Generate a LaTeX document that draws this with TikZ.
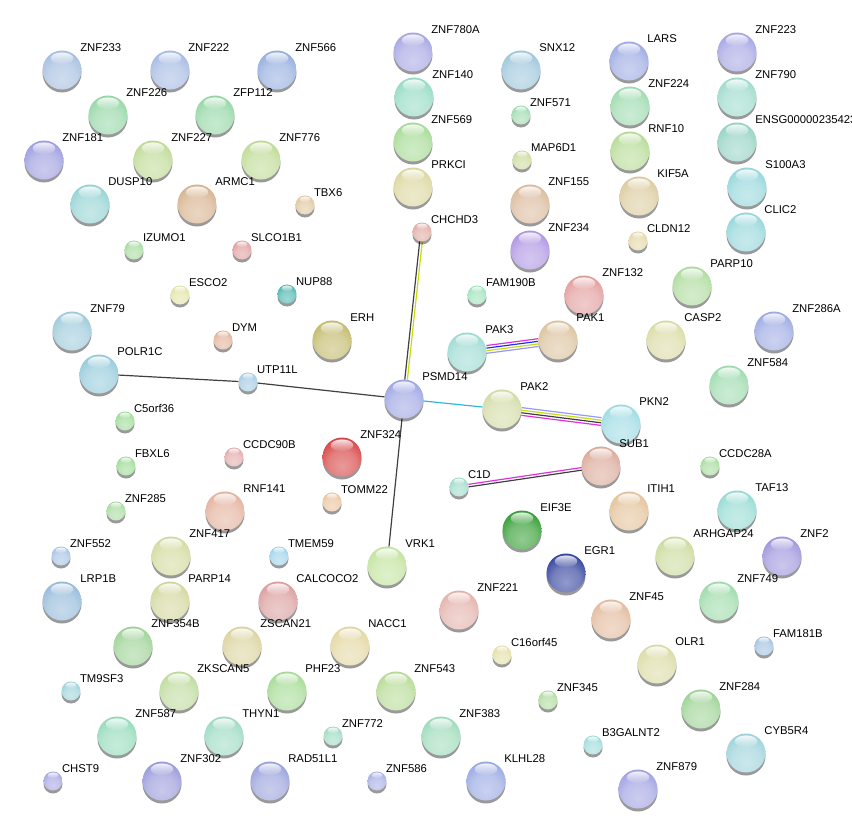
\documentclass[tikz,border=0pt]{standalone}
\usepackage{fontspec}
\setmainfont{Liberation Sans}
\usetikzlibrary{fadings}
\pgfdeclarelayer{edges}
\pgfdeclarelayer{labels}
\pgfsetlayers{edges,main,labels}
\definecolor{mybase}{HTML}{A0A8E4}
\pgfdeclareradialshading[mybase]{sphere}{\pgfpoint{0bp}{-12bp}}{%
 color(0bp)=(mybase!55!white);
 color(18bp)=(mybase!70!white);
 color(32bp)=(mybase);
 color(42bp)=(mybase!78!black);
 color(50bp)=(mybase!55!black);
 color(100bp)=(mybase!50!black)}
\definecolor{eblack}{HTML}{404040}
\definecolor{eyellow}{HTML}{C8DC10}
\definecolor{emag}{HTML}{E030E0}
\definecolor{eblue}{HTML}{2030E8}
\definecolor{elav}{HTML}{9898F8}
\definecolor{ecyan}{HTML}{30B8E0}
\tikzset{
 protein/.style={circle, inner sep=0pt, outer sep=0pt, shading=sphere},
 lbl/.style={anchor=west, inner sep=0pt, font=\fontsize{11.3}{13}\selectfont, text=black},
 edge/.style={line width=1.2pt},
}
\newcommand\protnode[6]{%
 \fill[black,opacity=0.4] (#2,#3+3) circle (#4);
 \definecolor{mybase}{HTML}{#5}%
 \node[protein, minimum size=2*#4pt] (#1) at (#2,#3) {};
 \fill[white,opacity=0.85,path fading=south] (#2,#3-0.6*#4) ellipse ({0.58*#4} and {0.3*#4});
 \begin{pgfonlayer}{labels}
 \node[lbl] at (#2+0.93*#4,#3-#4-2.8) {#6};
 \end{pgfonlayer}%
}
\begin{document}
\begin{tikzpicture}[x=1pt,y=-1pt]
\useasboundingbox (0,0) rectangle (852,835);
\begin{pgfonlayer}{edges}
\fill[white] (0,0) rectangle (852,835);
\end{pgfonlayer}
\protnode{ZNF233}{62}{70}{19.5}{A8C0E0}{ZNF233}
\protnode{ZNF222}{170}{70}{19.5}{A8BCE4}{ZNF222}
\protnode{ZNF566}{277}{70}{19.5}{98B0E0}{ZNF566}
\protnode{ZNF226}{108}{115}{19.5}{98D8A8}{ZNF226}
\protnode{ZFP112}{215}{115}{19.5}{98D8A8}{ZFP112}
\protnode{ZNF181}{44}{160}{19.5}{A0A0E0}{ZNF181}
\protnode{ZNF227}{153}{160}{19.5}{C0DC98}{ZNF227}
\protnode{ZNF776}{261}{160}{19.5}{C0DC98}{ZNF776}
\protnode{DUSP10}{90}{204}{19.5}{98D4D4}{DUSP10}
\protnode{ARMC1}{197}{204}{19.5}{D8B490}{ARMC1}
\protnode{IZUMO1}{134}{250}{9.5}{A8DCA0}{IZUMO1}
\protnode{SLCO1B1}{242}{250}{9.5}{E0A0A0}{SLCO1B1}
\protnode{TBX6}{305}{205}{9.5}{E0C8A0}{TBX6}
\protnode{ZNF780A}{413}{52}{19.5}{A8A8E4}{ZNF780A}
\protnode{ZNF140}{414}{97}{19.5}{98DCC4}{ZNF140}
\protnode{ZNF569}{413}{142}{19.5}{A8DC98}{ZNF569}
\protnode{PRKCI}{413}{187}{19.5}{DCD8A0}{PRKCI}
\protnode{CHCHD3}{422}{232}{9.5}{E0ACA4}{CHCHD3}
\protnode{SNX12}{521}{70}{19.5}{A0C8DC}{SNX12}
\protnode{ZNF571}{521}{115}{9.5}{A0DCB0}{ZNF571}
\protnode{MAP6D1}{522}{160}{9.5}{CCDCA0}{MAP6D1}
\protnode{ZNF155}{530}{204}{19.5}{DCBCA0}{ZNF155}
\protnode{ZNF234}{530}{250}{19.5}{B098E4}{ZNF234}
\protnode{LARS}{629}{61}{19.5}{A0ACE4}{LARS}
\protnode{ZNF224}{630}{106}{19.5}{A0DCB0}{ZNF224}
\protnode{RNF10}{630}{151}{19.5}{B8DC98}{RNF10}
\protnode{KIF5A}{639}{196}{19.5}{DCCCA0}{KIF5A}
\protnode{CLDN12}{638}{241}{9.5}{E4D8A8}{CLDN12}
\protnode{ZNF223}{737}{52}{19.5}{A8A8E4}{ZNF223}
\protnode{ZNF790}{737}{97}{19.5}{A0DCCC}{ZNF790}
\protnode{ENSG}{737}{142}{19.5}{98D4C4}{ENSG00000235423}
\protnode{S100A3}{747}{187}{19.5}{98D8DC}{S100A3}
\protnode{CLIC2}{746}{232}{19.5}{98D8DC}{CLIC2}
\protnode{PARP10}{692}{286}{19.5}{B0DCA0}{PARP10}
\protnode{ZNF132}{584}{295}{19.5}{E4A0A0}{ZNF132}
\protnode{ESCO2}{180}{295}{9.5}{E4E4A8}{ESCO2}
\protnode{ZNF79}{72}{331}{19.5}{A0CCDC}{ZNF79}
\protnode{DYM}{223}{340}{9.5}{E4B49C}{DYM}
\protnode{POLR1C}{99}{374}{19.5}{98CCDC}{POLR1C}
\protnode{UTP11L}{248}{382}{9.5}{A4CCE4}{UTP11L}
\protnode{NUP88}{287}{294}{9.5}{50B8B0}{NUP88}
\protnode{ERH}{332}{340}{19.5}{C4BC70}{ERH}
\protnode{PSMD14}{404}{399}{19.5}{A0A8E4}{PSMD14}
\protnode{FAM190B}{477}{295}{9.5}{A0E4BC}{FAM190B}
\protnode{PAK3}{467}{352}{19.5}{A0DCD4}{PAK3}
\protnode{PAK1}{558}{340}{19.5}{DCC4A0}{PAK1}
\protnode{CASP2}{666}{340}{19.5}{DCDCA8}{CASP2}
\protnode{ZNF286A}{774}{331}{19.5}{A0ACE4}{ZNF286A}
\protnode{ZNF584}{729}{385}{19.5}{A0DCB0}{ZNF584}
\protnode{PAK2}{502}{409}{19.5}{D4DCA8}{PAK2}
\protnode{PKN2}{621}{424}{19.5}{A0DCE4}{PKN2}
\protnode{C5orf36}{125}{421}{9.5}{A0DC98}{C5orf36}
\protnode{FBXL6}{126}{466}{9.5}{A0DC98}{FBXL6}
\protnode{CCDC90B}{234}{457}{9.5}{E4ACAC}{CCDC90B}
\protnode{ZNF324}{342}{457}{19.5}{D84848}{ZNF324}
\protnode{TOMM22}{332}{502}{9.5}{ECC4A0}{TOMM22}
\protnode{ZNF285}{116}{511}{9.5}{A8DCA0}{ZNF285}
\protnode{RNF141}{225}{511}{19.5}{E4B4A0}{RNF141}
\protnode{SUB1}{601}{466}{19.5}{DCAC9C}{SUB1}
\protnode{C1D}{459}{487}{9.5}{A0DCCC}{C1D}
\protnode{CCDC28A}{710}{466}{9.5}{A8DCA0}{CCDC28A}
\protnode{ITIH1}{629}{511}{19.5}{E4C49C}{ITIH1}
\protnode{EIF3E}{522}{530}{19.5}{38A038}{EIF3E}
\protnode{TAF13}{737}{510}{19.5}{98DCD4}{TAF13}
\protnode{ZNF552}{61}{556}{9.5}{A8C4E4}{ZNF552}
\protnode{ZNF417}{171}{556}{19.5}{D4DCA0}{ZNF417}
\protnode{TMEM59}{279}{556}{9.5}{A0D4EC}{TMEM59}
\protnode{VRK1}{387}{566}{19.5}{C4E4A0}{VRK1}
\protnode{EGR1}{566}{573}{19.5}{3848A0}{EGR1}
\protnode{ARHGAP24}{675}{556}{19.5}{CCDCA0}{ARHGAP24}
\protnode{ZNF2}{782}{556}{19.5}{A098DC}{ZNF2}
\protnode{LRP1B}{62}{601}{19.5}{98BCDC}{LRP1B}
\protnode{PARP14}{170}{601}{19.5}{D4D8A0}{PARP14}
\protnode{CALCOCO2}{278}{601}{19.5}{DCA0A0}{CALCOCO2}
\protnode{ZNF221}{459}{610}{19.5}{E4B4AC}{ZNF221}
\protnode{ZNF45}{611}{619}{19.5}{E4BCA0}{ZNF45}
\protnode{ZNF749}{719}{601}{19.5}{A0DCAC}{ZNF749}
\protnode{FAM181B}{764}{646}{9.5}{A4C4E0}{FAM181B}
\protnode{ZNF354B}{133}{646}{19.5}{A0D498}{ZNF354B}
\protnode{ZSCAN21}{242}{646}{19.5}{DCD4A0}{ZSCAN21}
\protnode{NACC1}{350}{646}{19.5}{E4D8A4}{NACC1}
\protnode{C16orf45}{502}{655}{9.5}{E4E0A8}{C16orf45}
\protnode{OLR1}{657}{664}{19.5}{DCDCA8}{OLR1}
\protnode{TM9SF3}{71}{691}{9.5}{A0D4DC}{TM9SF3}
\protnode{ZKSCAN5}{179}{691}{19.5}{C0DCA0}{ZKSCAN5}
\protnode{PHF23}{287}{691}{19.5}{A8DC98}{PHF23}
\protnode{ZNF543}{396}{691}{19.5}{B8DC98}{ZNF543}
\protnode{ZNF345}{548}{700}{9.5}{B0DCA0}{ZNF345}
\protnode{ZNF284}{701}{709}{19.5}{A0D498}{ZNF284}
\protnode{ZNF587}{117}{736}{19.5}{98DCBC}{ZNF587}
\protnode{THYN1}{224}{736}{19.5}{A0DCC4}{THYN1}
\protnode{ZNF772}{333}{736}{9.5}{A0DCC4}{ZNF772}
\protnode{ZNF383}{441}{736}{19.5}{A0DCBC}{ZNF383}
\protnode{B3GALNT2}{593}{745}{9.5}{A0DCDC}{B3GALNT2}
\protnode{CYB5R4}{746}{753}{19.5}{A0D4DC}{CYB5R4}
\protnode{CHST9}{53}{781}{9.5}{A8A8E4}{CHST9}
\protnode{ZNF302}{162}{781}{19.5}{9C9CDC}{ZNF302}
\protnode{RAD51L1}{270}{781}{19.5}{9CA4DC}{RAD51L1}
\protnode{ZNF586}{377}{781}{9.5}{A8B0E4}{ZNF586}
\protnode{KLHL28}{486}{781}{19.5}{9CACE4}{KLHL28}
\protnode{ZNF879}{638}{789}{19.5}{A4A4E4}{ZNF879}
\begin{pgfonlayer}{edges}
\draw[edge,eblack] (POLR1C) -- (UTP11L);
\draw[edge,eblack] (UTP11L) -- (PSMD14);
\draw[edge,eblack] (PSMD14) -- (VRK1);
\draw[edge,ecyan] (PSMD14) -- (PAK2);
\draw[edge,eblack,transform canvas={xshift=-1.3pt}] (PSMD14) -- (CHCHD3);
\draw[edge,eyellow,transform canvas={xshift=1.3pt}] (PSMD14) -- (CHCHD3);
\draw[edge,emag,transform canvas={yshift=3.9pt}] (PAK3) -- (PAK1);
\draw[edge,eblue,transform canvas={yshift=1.3pt}] (PAK3) -- (PAK1);
\draw[edge,eyellow,transform canvas={yshift=-1.3pt}] (PAK3) -- (PAK1);
\draw[edge,elav,transform canvas={yshift=-3.9pt}] (PAK3) -- (PAK1);
\draw[edge,elav,transform canvas={yshift=3.9pt}] (PAK2) -- (PKN2);
\draw[edge,eyellow,transform canvas={yshift=1.3pt}] (PAK2) -- (PKN2);
\draw[edge,eblack,transform canvas={yshift=-1.3pt}] (PAK2) -- (PKN2);
\draw[edge,emag,transform canvas={yshift=-3.9pt}] (PAK2) -- (PKN2);
\draw[edge,emag,transform canvas={yshift=1.3pt}] (C1D) -- (SUB1);
\draw[edge,eblack,transform canvas={yshift=-1.3pt}] (C1D) -- (SUB1);
\end{pgfonlayer}
\end{tikzpicture}
\end{document}
